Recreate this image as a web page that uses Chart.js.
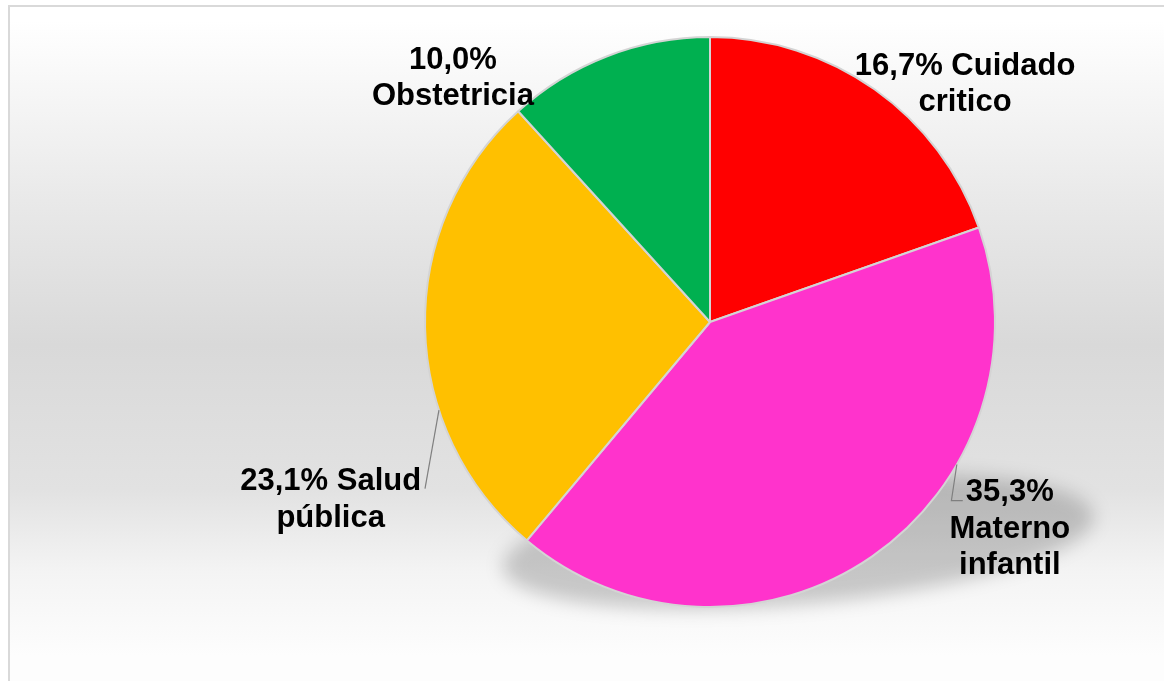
<!DOCTYPE html>
<html>
<head>
<meta charset="utf-8">
<script src="https://cdn.jsdelivr.net/npm/chart.js"></script>
<style>
  body { margin: 0; overflow: hidden; }
  #frame {
    position: absolute; left: 8px; top: 5px; width: 1170px; height: 690px;
    border-left: 2px solid #d9d9d9; border-top: 2px solid #d9d9d9;
    background: linear-gradient(#ffffff 2%, #e9e9e9 28%, #d9d9d9 49%, #e2e2e2 70%, #f4f4f4 82%, #fdfdfd 94%);
  }
  #wrap { position: absolute; left: 0; top: 0; width: 1164px; height: 681px; }
</style>
</head>
<body>
<div id="frame"></div>
<div id="wrap"><canvas id="pie" width="1164" height="681"></canvas></div>
<script>
const categories = ['Cuidado critico', 'Materno infantil', 'Salud pública', 'Obstetricia'];
const shares = [16.7, 35.3, 23.1, 10.0];
const sliceColors = ['#ff0000', '#ff33cc', '#ffc000', '#00b050'];

// where each label block sits, in pie radii from the centre
const labelSpots = [
  { at: [0.895, -0.843], wrap: 240 },
  { at: [1.052, 0.718], wrap: 130, leader: { deg: 120, to: [0.847, 0.627], tail: 0.04 } },
  { at: [-1.331, 0.615], wrap: 200, leader: { deg: 252, to: [-1.0, 0.585] } },
  { at: [-0.902, -0.864], wrap: 175 }
];

const fmt = v => v.toFixed(1).replace('.', ',') + '%';

function wrapText(ctx, text, maxW) {
  const words = text.split(' ');
  const lines = [];
  let cur = '';
  words.forEach(w => {
    const t = cur ? cur + ' ' + w : w;
    if (cur && ctx.measureText(t).width > maxW) {
      lines.push(cur);
      cur = w;
    } else {
      cur = t;
    }
  });
  if (cur) lines.push(cur);
  return lines;
}

const pieShadow = {
  id: 'pieShadow',
  beforeDatasetsDraw(chart) {
    const arc = chart.getDatasetMeta(0).data[0];
    if (!arc) return;
    const { x, y, outerRadius: r } = arc.getProps(['x', 'y', 'outerRadius'], true);
    const ctx = chart.ctx;
    ctx.save();
    ctx.filter = 'blur(9px)';
    ctx.fillStyle = 'rgba(0,0,0,0.19)';
    ctx.beginPath();
    ctx.ellipse(x + 0.31 * r, y + 0.77 * r, 1.04 * r, 0.22 * r, -5 * Math.PI / 180, 0, Math.PI * 2);
    ctx.fill();
    ctx.restore();
  }
};

const sliceLabels = {
  id: 'sliceLabels',
  afterDatasetsDraw(chart) {
    const ctx = chart.ctx;
    const meta = chart.getDatasetMeta(0);
    const size = 31;
    const lineH = 36.5;
    ctx.save();
    ctx.font = 'bold ' + size + 'px "Liberation Sans", Arial, sans-serif';
    ctx.fillStyle = '#000';
    ctx.textAlign = 'center';
    ctx.textBaseline = 'alphabetic';
    meta.data.forEach((arc, i) => {
      const { x, y, outerRadius: r, startAngle, endAngle } =
        arc.getProps(['x', 'y', 'outerRadius', 'startAngle', 'endAngle'], true);
      const spot = labelSpots[i];
      const cx = x + spot.at[0] * r;
      const cy = y + spot.at[1] * r;
      const lines = wrapText(ctx, fmt(shares[i]) + ' ' + categories[i], spot.wrap);
      const top = cy - (lines.length - 1) * lineH / 2;
      lines.forEach((ln, k) => ctx.fillText(ln, cx, top + k * lineH + size * 0.36));

      if (spot.leader) {
        // attach point kept inside the slice's own angular span
        let a = spot.leader.deg * Math.PI / 180 - Math.PI / 2;
        a = Math.min(Math.max(a, startAngle), endAngle);
        const sx = x + Math.cos(a) * r;
        const sy = y + Math.sin(a) * r;
        const ex = x + spot.leader.to[0] * r;
        const ey = y + spot.leader.to[1] * r;
        ctx.beginPath();
        ctx.strokeStyle = '#7f7f7f';
        ctx.lineWidth = 1.2;
        ctx.moveTo(sx, sy);
        ctx.lineTo(ex, ey);
        if (spot.leader.tail) ctx.lineTo(ex + spot.leader.tail * r, ey);
        ctx.stroke();
      }
    });
    ctx.restore();
  }
};

new Chart(document.getElementById('pie'), {
  type: 'pie',
  data: {
    labels: categories,
    datasets: [{
      data: shares,
      backgroundColor: sliceColors,
      borderColor: '#d4d4d4',
      borderWidth: 2
    }]
  },
  options: {
    responsive: false,
    animation: false,
    layout: { padding: { left: 424, right: 168, top: 36, bottom: 73 } },
    plugins: {
      legend: { display: false },
      tooltip: { enabled: false }
    }
  },
  plugins: [pieShadow, sliceLabels]
});
</script>
</body>
</html>
